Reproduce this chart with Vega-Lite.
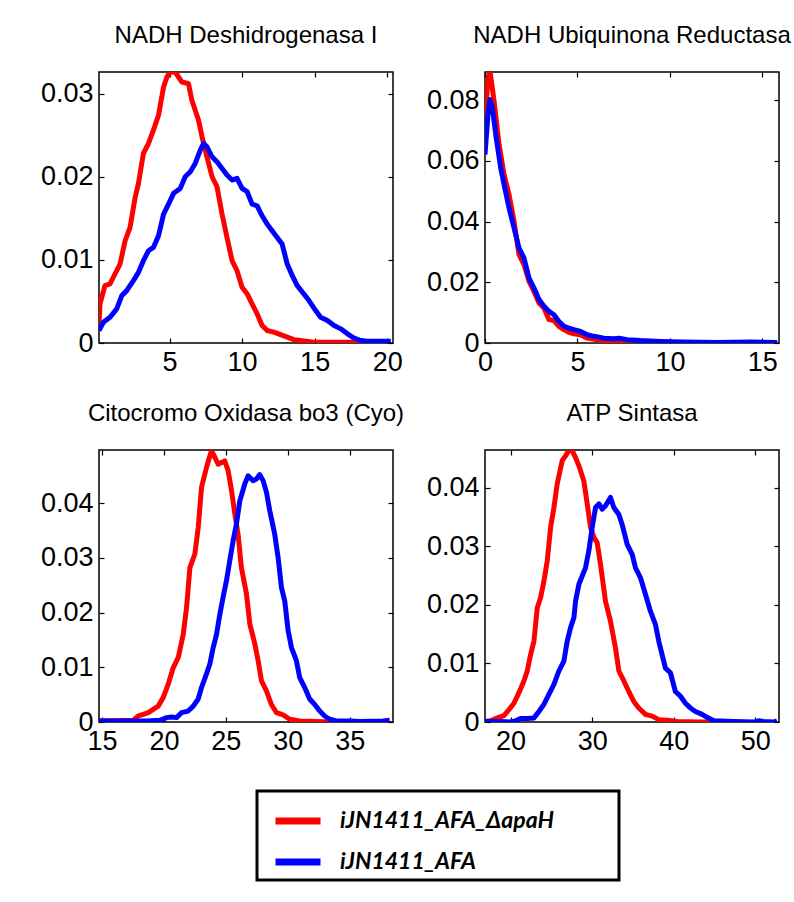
{
  "$schema": "https://vega.github.io/schema/vega-lite/v6.json",
  "background": "white",
  "padding": {"left": 39, "top": 23, "right": 5, "bottom": 5},
  "config": {
    "font": "Liberation Sans",
    "view": {"stroke": "black", "strokeWidth": 1.5},
    "axis": {"domain": false, "grid": false, "title": null, "labelFont": "Liberation Sans", "labelFontSize": 27, "labelColor": "black", "tickColor": "black", "tickSize": -5, "tickWidth": 1.2, "labelFlush": false, "labelPadding": 11, "labelOverlap": false},
    "title": {"font": "Liberation Sans", "fontSize": 24, "fontWeight": "normal", "color": "black", "anchor": "middle", "baseline": "alphabetic", "offset": 23},
    "legend": {
      "orient": "none", "legendX": 158, "legendY": 719, "title": null,
      "strokeColor": "black", "strokeWidth": 3, "padding": 4, "fillColor": "white",
      "symbolType": "stroke", "symbolSize": 2025, "symbolStrokeWidth": 7, "symbolOffset": 11,
      "labelFont": "Lato", "labelFontSize": 23, "labelFontWeight": "bold", "labelFontStyle": "italic", "labelColor": "black",
      "labelOffset": 16, "rowPadding": 1, "labelLimit": 0
    }
  },
  "datasets": {
    "p1": [
      {"x":0.14,"y":0.0023,"s":"iJN1411_AFA_ΔapaH"},{"x":0.21,"y":0.0047,"s":"iJN1411_AFA_ΔapaH"},{"x":0.55,"y":0.0069,"s":"iJN1411_AFA_ΔapaH"},{"x":0.90,"y":0.0071,"s":"iJN1411_AFA_ΔapaH"},{"x":1.24,"y":0.0083,"s":"iJN1411_AFA_ΔapaH"},{"x":1.59,"y":0.0095,"s":"iJN1411_AFA_ΔapaH"},{"x":1.94,"y":0.0123,"s":"iJN1411_AFA_ΔapaH"},{"x":2.28,"y":0.0139,"s":"iJN1411_AFA_ΔapaH"},{"x":2.63,"y":0.0175,"s":"iJN1411_AFA_ΔapaH"},{"x":2.86,"y":0.0192,"s":"iJN1411_AFA_ΔapaH"},{"x":3.20,"y":0.0228,"s":"iJN1411_AFA_ΔapaH"},{"x":3.55,"y":0.0240,"s":"iJN1411_AFA_ΔapaH"},{"x":3.89,"y":0.0256,"s":"iJN1411_AFA_ΔapaH"},{"x":4.24,"y":0.0274,"s":"iJN1411_AFA_ΔapaH"},{"x":4.59,"y":0.0308,"s":"iJN1411_AFA_ΔapaH"},{"x":4.82,"y":0.0320,"s":"iJN1411_AFA_ΔapaH"},{"x":5.05,"y":0.0326,"s":"iJN1411_AFA_ΔapaH"},{"x":5.39,"y":0.0326,"s":"iJN1411_AFA_ΔapaH"},{"x":5.62,"y":0.0320,"s":"iJN1411_AFA_ΔapaH"},{"x":5.85,"y":0.0314,"s":"iJN1411_AFA_ΔapaH"},{"x":6.31,"y":0.0312,"s":"iJN1411_AFA_ΔapaH"},{"x":6.54,"y":0.0292,"s":"iJN1411_AFA_ΔapaH"},{"x":7.00,"y":0.0268,"s":"iJN1411_AFA_ΔapaH"},{"x":7.24,"y":0.0248,"s":"iJN1411_AFA_ΔapaH"},{"x":7.58,"y":0.0224,"s":"iJN1411_AFA_ΔapaH"},{"x":7.93,"y":0.0200,"s":"iJN1411_AFA_ΔapaH"},{"x":8.27,"y":0.0188,"s":"iJN1411_AFA_ΔapaH"},{"x":8.62,"y":0.0155,"s":"iJN1411_AFA_ΔapaH"},{"x":8.96,"y":0.0127,"s":"iJN1411_AFA_ΔapaH"},{"x":9.31,"y":0.0099,"s":"iJN1411_AFA_ΔapaH"},{"x":9.65,"y":0.0087,"s":"iJN1411_AFA_ΔapaH"},{"x":10.00,"y":0.0067,"s":"iJN1411_AFA_ΔapaH"},{"x":10.35,"y":0.0059,"s":"iJN1411_AFA_ΔapaH"},{"x":10.69,"y":0.0047,"s":"iJN1411_AFA_ΔapaH"},{"x":11.04,"y":0.0035,"s":"iJN1411_AFA_ΔapaH"},{"x":11.38,"y":0.0021,"s":"iJN1411_AFA_ΔapaH"},{"x":11.73,"y":0.0015,"s":"iJN1411_AFA_ΔapaH"},{"x":12.19,"y":0.0013,"s":"iJN1411_AFA_ΔapaH"},{"x":12.65,"y":0.0010,"s":"iJN1411_AFA_ΔapaH"},{"x":13.11,"y":0.0007,"s":"iJN1411_AFA_ΔapaH"},{"x":13.57,"y":0.0004,"s":"iJN1411_AFA_ΔapaH"},{"x":14.03,"y":0.0003,"s":"iJN1411_AFA_ΔapaH"},{"x":14.95,"y":0.0001,"s":"iJN1411_AFA_ΔapaH"},{"x":16.34,"y":0.0001,"s":"iJN1411_AFA_ΔapaH"},{"x":18.18,"y":0.0001,"s":"iJN1411_AFA_ΔapaH"},{"x":18.64,"y":0.0,"s":"iJN1411_AFA_ΔapaH"},
      {"x":0.14,"y":0.0015,"s":"iJN1411_AFA"},{"x":0.44,"y":0.0025,"s":"iJN1411_AFA"},{"x":0.90,"y":0.0031,"s":"iJN1411_AFA"},{"x":1.36,"y":0.0041,"s":"iJN1411_AFA"},{"x":1.71,"y":0.0057,"s":"iJN1411_AFA"},{"x":2.05,"y":0.0063,"s":"iJN1411_AFA"},{"x":2.51,"y":0.0075,"s":"iJN1411_AFA"},{"x":2.86,"y":0.0085,"s":"iJN1411_AFA"},{"x":3.20,"y":0.0099,"s":"iJN1411_AFA"},{"x":3.55,"y":0.0111,"s":"iJN1411_AFA"},{"x":3.89,"y":0.0115,"s":"iJN1411_AFA"},{"x":4.24,"y":0.0129,"s":"iJN1411_AFA"},{"x":4.59,"y":0.0155,"s":"iJN1411_AFA"},{"x":4.93,"y":0.0167,"s":"iJN1411_AFA"},{"x":5.28,"y":0.0180,"s":"iJN1411_AFA"},{"x":5.74,"y":0.0186,"s":"iJN1411_AFA"},{"x":6.08,"y":0.0200,"s":"iJN1411_AFA"},{"x":6.43,"y":0.0206,"s":"iJN1411_AFA"},{"x":6.77,"y":0.0216,"s":"iJN1411_AFA"},{"x":7.12,"y":0.0232,"s":"iJN1411_AFA"},{"x":7.35,"y":0.0240,"s":"iJN1411_AFA"},{"x":7.58,"y":0.0236,"s":"iJN1411_AFA"},{"x":7.93,"y":0.0224,"s":"iJN1411_AFA"},{"x":8.27,"y":0.0218,"s":"iJN1411_AFA"},{"x":8.62,"y":0.0210,"s":"iJN1411_AFA"},{"x":8.96,"y":0.0202,"s":"iJN1411_AFA"},{"x":9.31,"y":0.0196,"s":"iJN1411_AFA"},{"x":9.65,"y":0.0198,"s":"iJN1411_AFA"},{"x":10.00,"y":0.0186,"s":"iJN1411_AFA"},{"x":10.35,"y":0.0182,"s":"iJN1411_AFA"},{"x":10.69,"y":0.0167,"s":"iJN1411_AFA"},{"x":11.04,"y":0.0165,"s":"iJN1411_AFA"},{"x":11.38,"y":0.0153,"s":"iJN1411_AFA"},{"x":11.73,"y":0.0143,"s":"iJN1411_AFA"},{"x":12.07,"y":0.0135,"s":"iJN1411_AFA"},{"x":12.42,"y":0.0127,"s":"iJN1411_AFA"},{"x":12.76,"y":0.0119,"s":"iJN1411_AFA"},{"x":13.11,"y":0.0095,"s":"iJN1411_AFA"},{"x":13.46,"y":0.0081,"s":"iJN1411_AFA"},{"x":13.80,"y":0.0069,"s":"iJN1411_AFA"},{"x":14.26,"y":0.0059,"s":"iJN1411_AFA"},{"x":14.61,"y":0.0051,"s":"iJN1411_AFA"},{"x":15.07,"y":0.0039,"s":"iJN1411_AFA"},{"x":15.41,"y":0.0031,"s":"iJN1411_AFA"},{"x":15.88,"y":0.0027,"s":"iJN1411_AFA"},{"x":16.34,"y":0.0021,"s":"iJN1411_AFA"},{"x":16.80,"y":0.0017,"s":"iJN1411_AFA"},{"x":17.26,"y":0.0011,"s":"iJN1411_AFA"},{"x":17.72,"y":0.0006,"s":"iJN1411_AFA"},{"x":18.18,"y":0.0003,"s":"iJN1411_AFA"},{"x":18.64,"y":0.0002,"s":"iJN1411_AFA"},{"x":20.25,"y":0.0002,"s":"iJN1411_AFA"}
    ],
    "p2": [
      {"x":0.0,"y":0.0720,"s":"iJN1411_AFA_ΔapaH"},{"x":0.16,"y":0.0874,"s":"iJN1411_AFA_ΔapaH"},{"x":0.27,"y":0.0896,"s":"iJN1411_AFA_ΔapaH"},{"x":0.49,"y":0.0797,"s":"iJN1411_AFA_ΔapaH"},{"x":0.76,"y":0.0654,"s":"iJN1411_AFA_ΔapaH"},{"x":1.03,"y":0.0555,"s":"iJN1411_AFA_ΔapaH"},{"x":1.30,"y":0.0489,"s":"iJN1411_AFA_ΔapaH"},{"x":1.57,"y":0.0401,"s":"iJN1411_AFA_ΔapaH"},{"x":1.84,"y":0.0291,"s":"iJN1411_AFA_ΔapaH"},{"x":2.11,"y":0.0258,"s":"iJN1411_AFA_ΔapaH"},{"x":2.38,"y":0.0203,"s":"iJN1411_AFA_ΔapaH"},{"x":2.65,"y":0.0170,"s":"iJN1411_AFA_ΔapaH"},{"x":2.92,"y":0.0132,"s":"iJN1411_AFA_ΔapaH"},{"x":3.19,"y":0.0115,"s":"iJN1411_AFA_ΔapaH"},{"x":3.46,"y":0.0077,"s":"iJN1411_AFA_ΔapaH"},{"x":3.73,"y":0.0074,"s":"iJN1411_AFA_ΔapaH"},{"x":4.00,"y":0.0055,"s":"iJN1411_AFA_ΔapaH"},{"x":4.27,"y":0.0044,"s":"iJN1411_AFA_ΔapaH"},{"x":4.54,"y":0.0035,"s":"iJN1411_AFA_ΔapaH"},{"x":4.81,"y":0.0030,"s":"iJN1411_AFA_ΔapaH"},{"x":5.17,"y":0.0027,"s":"iJN1411_AFA_ΔapaH"},{"x":5.53,"y":0.0016,"s":"iJN1411_AFA_ΔapaH"},{"x":6.07,"y":0.0011,"s":"iJN1411_AFA_ΔapaH"},{"x":6.61,"y":0.0005,"s":"iJN1411_AFA_ΔapaH"},{"x":7.15,"y":0.0003,"s":"iJN1411_AFA_ΔapaH"},{"x":8.05,"y":0.0001,"s":"iJN1411_AFA_ΔapaH"},{"x":9.86,"y":0.0,"s":"iJN1411_AFA_ΔapaH"},{"x":15.8,"y":0.0,"s":"iJN1411_AFA_ΔapaH"},
      {"x":0.0,"y":0.0621,"s":"iJN1411_AFA"},{"x":0.16,"y":0.0753,"s":"iJN1411_AFA"},{"x":0.27,"y":0.0802,"s":"iJN1411_AFA"},{"x":0.40,"y":0.0775,"s":"iJN1411_AFA"},{"x":0.58,"y":0.0687,"s":"iJN1411_AFA"},{"x":0.85,"y":0.0577,"s":"iJN1411_AFA"},{"x":1.03,"y":0.0522,"s":"iJN1411_AFA"},{"x":1.30,"y":0.0445,"s":"iJN1411_AFA"},{"x":1.57,"y":0.0379,"s":"iJN1411_AFA"},{"x":1.84,"y":0.0313,"s":"iJN1411_AFA"},{"x":2.11,"y":0.0280,"s":"iJN1411_AFA"},{"x":2.38,"y":0.0214,"s":"iJN1411_AFA"},{"x":2.65,"y":0.0181,"s":"iJN1411_AFA"},{"x":2.92,"y":0.0143,"s":"iJN1411_AFA"},{"x":3.19,"y":0.0121,"s":"iJN1411_AFA"},{"x":3.46,"y":0.0104,"s":"iJN1411_AFA"},{"x":3.73,"y":0.0093,"s":"iJN1411_AFA"},{"x":4.00,"y":0.0071,"s":"iJN1411_AFA"},{"x":4.27,"y":0.0055,"s":"iJN1411_AFA"},{"x":4.54,"y":0.0049,"s":"iJN1411_AFA"},{"x":4.81,"y":0.0044,"s":"iJN1411_AFA"},{"x":5.17,"y":0.0038,"s":"iJN1411_AFA"},{"x":5.53,"y":0.0027,"s":"iJN1411_AFA"},{"x":5.89,"y":0.0022,"s":"iJN1411_AFA"},{"x":6.43,"y":0.0016,"s":"iJN1411_AFA"},{"x":6.97,"y":0.0014,"s":"iJN1411_AFA"},{"x":7.24,"y":0.0016,"s":"iJN1411_AFA"},{"x":7.69,"y":0.0011,"s":"iJN1411_AFA"},{"x":8.41,"y":0.0008,"s":"iJN1411_AFA"},{"x":9.50,"y":0.0005,"s":"iJN1411_AFA"},{"x":10.76,"y":0.0003,"s":"iJN1411_AFA"},{"x":12.56,"y":0.0002,"s":"iJN1411_AFA"},{"x":14.36,"y":0.0003,"s":"iJN1411_AFA"},{"x":15.8,"y":0.0002,"s":"iJN1411_AFA"}
    ],
    "p3": [
      {"x":14.76,"y":0.0002,"s":"iJN1411_AFA_ΔapaH"},{"x":17.53,"y":0.0003,"s":"iJN1411_AFA_ΔapaH"},{"x":17.93,"y":0.0011,"s":"iJN1411_AFA_ΔapaH"},{"x":18.33,"y":0.0014,"s":"iJN1411_AFA_ΔapaH"},{"x":18.74,"y":0.0017,"s":"iJN1411_AFA_ΔapaH"},{"x":19.14,"y":0.0023,"s":"iJN1411_AFA_ΔapaH"},{"x":19.54,"y":0.0029,"s":"iJN1411_AFA_ΔapaH"},{"x":19.95,"y":0.0045,"s":"iJN1411_AFA_ΔapaH"},{"x":20.35,"y":0.0069,"s":"iJN1411_AFA_ΔapaH"},{"x":20.75,"y":0.0099,"s":"iJN1411_AFA_ΔapaH"},{"x":21.16,"y":0.0118,"s":"iJN1411_AFA_ΔapaH"},{"x":21.56,"y":0.0160,"s":"iJN1411_AFA_ΔapaH"},{"x":21.83,"y":0.0209,"s":"iJN1411_AFA_ΔapaH"},{"x":22.10,"y":0.0282,"s":"iJN1411_AFA_ΔapaH"},{"x":22.50,"y":0.0307,"s":"iJN1411_AFA_ΔapaH"},{"x":22.77,"y":0.0355,"s":"iJN1411_AFA_ΔapaH"},{"x":23.04,"y":0.0429,"s":"iJN1411_AFA_ΔapaH"},{"x":23.44,"y":0.0465,"s":"iJN1411_AFA_ΔapaH"},{"x":23.84,"y":0.0496,"s":"iJN1411_AFA_ΔapaH"},{"x":24.11,"y":0.0484,"s":"iJN1411_AFA_ΔapaH"},{"x":24.38,"y":0.0471,"s":"iJN1411_AFA_ΔapaH"},{"x":24.65,"y":0.0474,"s":"iJN1411_AFA_ΔapaH"},{"x":24.92,"y":0.0477,"s":"iJN1411_AFA_ΔapaH"},{"x":25.19,"y":0.0459,"s":"iJN1411_AFA_ΔapaH"},{"x":25.46,"y":0.0423,"s":"iJN1411_AFA_ΔapaH"},{"x":25.73,"y":0.0380,"s":"iJN1411_AFA_ΔapaH"},{"x":25.99,"y":0.0343,"s":"iJN1411_AFA_ΔapaH"},{"x":26.26,"y":0.0282,"s":"iJN1411_AFA_ΔapaH"},{"x":26.67,"y":0.0234,"s":"iJN1411_AFA_ΔapaH"},{"x":26.94,"y":0.0179,"s":"iJN1411_AFA_ΔapaH"},{"x":27.34,"y":0.0143,"s":"iJN1411_AFA_ΔapaH"},{"x":27.61,"y":0.0112,"s":"iJN1411_AFA_ΔapaH"},{"x":27.88,"y":0.0075,"s":"iJN1411_AFA_ΔapaH"},{"x":28.28,"y":0.0057,"s":"iJN1411_AFA_ΔapaH"},{"x":28.68,"y":0.0032,"s":"iJN1411_AFA_ΔapaH"},{"x":29.09,"y":0.0017,"s":"iJN1411_AFA_ΔapaH"},{"x":29.62,"y":0.0013,"s":"iJN1411_AFA_ΔapaH"},{"x":30.16,"y":0.0005,"s":"iJN1411_AFA_ΔapaH"},{"x":30.97,"y":0.0002,"s":"iJN1411_AFA_ΔapaH"},{"x":32.31,"y":0.0001,"s":"iJN1411_AFA_ΔapaH"},{"x":33.39,"y":0.0,"s":"iJN1411_AFA_ΔapaH"},
      {"x":14.76,"y":0.0002,"s":"iJN1411_AFA"},{"x":18.60,"y":0.0002,"s":"iJN1411_AFA"},{"x":19.68,"y":0.0003,"s":"iJN1411_AFA"},{"x":20.22,"y":0.0008,"s":"iJN1411_AFA"},{"x":20.62,"y":0.0009,"s":"iJN1411_AFA"},{"x":21.02,"y":0.0008,"s":"iJN1411_AFA"},{"x":21.42,"y":0.0017,"s":"iJN1411_AFA"},{"x":21.96,"y":0.0020,"s":"iJN1411_AFA"},{"x":22.37,"y":0.0029,"s":"iJN1411_AFA"},{"x":22.77,"y":0.0042,"s":"iJN1411_AFA"},{"x":23.04,"y":0.0063,"s":"iJN1411_AFA"},{"x":23.44,"y":0.0088,"s":"iJN1411_AFA"},{"x":23.71,"y":0.0106,"s":"iJN1411_AFA"},{"x":23.98,"y":0.0136,"s":"iJN1411_AFA"},{"x":24.25,"y":0.0160,"s":"iJN1411_AFA"},{"x":24.52,"y":0.0197,"s":"iJN1411_AFA"},{"x":24.78,"y":0.0228,"s":"iJN1411_AFA"},{"x":25.05,"y":0.0258,"s":"iJN1411_AFA"},{"x":25.32,"y":0.0295,"s":"iJN1411_AFA"},{"x":25.59,"y":0.0331,"s":"iJN1411_AFA"},{"x":25.86,"y":0.0362,"s":"iJN1411_AFA"},{"x":26.13,"y":0.0404,"s":"iJN1411_AFA"},{"x":26.53,"y":0.0435,"s":"iJN1411_AFA"},{"x":26.80,"y":0.0450,"s":"iJN1411_AFA"},{"x":27.20,"y":0.0441,"s":"iJN1411_AFA"},{"x":27.47,"y":0.0444,"s":"iJN1411_AFA"},{"x":27.74,"y":0.0452,"s":"iJN1411_AFA"},{"x":28.01,"y":0.0441,"s":"iJN1411_AFA"},{"x":28.28,"y":0.0420,"s":"iJN1411_AFA"},{"x":28.55,"y":0.0386,"s":"iJN1411_AFA"},{"x":28.95,"y":0.0343,"s":"iJN1411_AFA"},{"x":29.22,"y":0.0301,"s":"iJN1411_AFA"},{"x":29.49,"y":0.0246,"s":"iJN1411_AFA"},{"x":29.76,"y":0.0221,"s":"iJN1411_AFA"},{"x":30.03,"y":0.0167,"s":"iJN1411_AFA"},{"x":30.30,"y":0.0136,"s":"iJN1411_AFA"},{"x":30.70,"y":0.0112,"s":"iJN1411_AFA"},{"x":30.97,"y":0.0081,"s":"iJN1411_AFA"},{"x":31.37,"y":0.0063,"s":"iJN1411_AFA"},{"x":31.77,"y":0.0042,"s":"iJN1411_AFA"},{"x":32.18,"y":0.0032,"s":"iJN1411_AFA"},{"x":32.58,"y":0.0020,"s":"iJN1411_AFA"},{"x":32.98,"y":0.0011,"s":"iJN1411_AFA"},{"x":33.39,"y":0.0005,"s":"iJN1411_AFA"},{"x":33.92,"y":0.0002,"s":"iJN1411_AFA"},{"x":35.00,"y":0.0002,"s":"iJN1411_AFA"},{"x":35.81,"y":0.0001,"s":"iJN1411_AFA"},{"x":37.69,"y":0.0002,"s":"iJN1411_AFA"},{"x":38.23,"y":0.0003,"s":"iJN1411_AFA"}
    ],
    "p4": [
      {"x":16.86,"y":0.0001,"s":"iJN1411_AFA_ΔapaH"},{"x":17.55,"y":0.0002,"s":"iJN1411_AFA_ΔapaH"},{"x":18.37,"y":0.0007,"s":"iJN1411_AFA_ΔapaH"},{"x":19.18,"y":0.0011,"s":"iJN1411_AFA_ΔapaH"},{"x":19.80,"y":0.0021,"s":"iJN1411_AFA_ΔapaH"},{"x":20.41,"y":0.0032,"s":"iJN1411_AFA_ΔapaH"},{"x":21.02,"y":0.0050,"s":"iJN1411_AFA_ΔapaH"},{"x":21.63,"y":0.0070,"s":"iJN1411_AFA_ΔapaH"},{"x":22.04,"y":0.0087,"s":"iJN1411_AFA_ΔapaH"},{"x":22.45,"y":0.0115,"s":"iJN1411_AFA_ΔapaH"},{"x":22.86,"y":0.0138,"s":"iJN1411_AFA_ΔapaH"},{"x":23.27,"y":0.0195,"s":"iJN1411_AFA_ΔapaH"},{"x":23.67,"y":0.0212,"s":"iJN1411_AFA_ΔapaH"},{"x":24.08,"y":0.0240,"s":"iJN1411_AFA_ΔapaH"},{"x":24.49,"y":0.0275,"s":"iJN1411_AFA_ΔapaH"},{"x":24.90,"y":0.0332,"s":"iJN1411_AFA_ΔapaH"},{"x":25.31,"y":0.0366,"s":"iJN1411_AFA_ΔapaH"},{"x":25.71,"y":0.0406,"s":"iJN1411_AFA_ΔapaH"},{"x":26.33,"y":0.0446,"s":"iJN1411_AFA_ΔapaH"},{"x":26.73,"y":0.0454,"s":"iJN1411_AFA_ΔapaH"},{"x":27.14,"y":0.0463,"s":"iJN1411_AFA_ΔapaH"},{"x":27.55,"y":0.0463,"s":"iJN1411_AFA_ΔapaH"},{"x":27.96,"y":0.0451,"s":"iJN1411_AFA_ΔapaH"},{"x":28.37,"y":0.0437,"s":"iJN1411_AFA_ΔapaH"},{"x":28.98,"y":0.0411,"s":"iJN1411_AFA_ΔapaH"},{"x":29.39,"y":0.0372,"s":"iJN1411_AFA_ΔapaH"},{"x":29.80,"y":0.0332,"s":"iJN1411_AFA_ΔapaH"},{"x":30.20,"y":0.0315,"s":"iJN1411_AFA_ΔapaH"},{"x":30.61,"y":0.0306,"s":"iJN1411_AFA_ΔapaH"},{"x":31.02,"y":0.0269,"s":"iJN1411_AFA_ΔapaH"},{"x":31.63,"y":0.0206,"s":"iJN1411_AFA_ΔapaH"},{"x":32.24,"y":0.0172,"s":"iJN1411_AFA_ΔapaH"},{"x":32.86,"y":0.0126,"s":"iJN1411_AFA_ΔapaH"},{"x":33.27,"y":0.0087,"s":"iJN1411_AFA_ΔapaH"},{"x":33.88,"y":0.0070,"s":"iJN1411_AFA_ΔapaH"},{"x":34.49,"y":0.0052,"s":"iJN1411_AFA_ΔapaH"},{"x":35.10,"y":0.0035,"s":"iJN1411_AFA_ΔapaH"},{"x":35.71,"y":0.0024,"s":"iJN1411_AFA_ΔapaH"},{"x":36.53,"y":0.0013,"s":"iJN1411_AFA_ΔapaH"},{"x":37.35,"y":0.0010,"s":"iJN1411_AFA_ΔapaH"},{"x":38.16,"y":0.0004,"s":"iJN1411_AFA_ΔapaH"},{"x":39.18,"y":0.0003,"s":"iJN1411_AFA_ΔapaH"},{"x":40.41,"y":0.0001,"s":"iJN1411_AFA_ΔapaH"},{"x":43.27,"y":0.0,"s":"iJN1411_AFA_ΔapaH"},{"x":44.49,"y":0.0,"s":"iJN1411_AFA_ΔapaH"},
      {"x":16.86,"y":0.0001,"s":"iJN1411_AFA"},{"x":18.78,"y":0.0001,"s":"iJN1411_AFA"},{"x":20.00,"y":0.0,"s":"iJN1411_AFA"},{"x":20.61,"y":0.0002,"s":"iJN1411_AFA"},{"x":21.22,"y":0.0006,"s":"iJN1411_AFA"},{"x":22.04,"y":0.0006,"s":"iJN1411_AFA"},{"x":22.86,"y":0.0007,"s":"iJN1411_AFA"},{"x":23.47,"y":0.0018,"s":"iJN1411_AFA"},{"x":24.08,"y":0.0030,"s":"iJN1411_AFA"},{"x":24.69,"y":0.0047,"s":"iJN1411_AFA"},{"x":25.31,"y":0.0064,"s":"iJN1411_AFA"},{"x":25.92,"y":0.0087,"s":"iJN1411_AFA"},{"x":26.53,"y":0.0104,"s":"iJN1411_AFA"},{"x":26.94,"y":0.0138,"s":"iJN1411_AFA"},{"x":27.35,"y":0.0161,"s":"iJN1411_AFA"},{"x":27.76,"y":0.0178,"s":"iJN1411_AFA"},{"x":27.96,"y":0.0206,"s":"iJN1411_AFA"},{"x":28.37,"y":0.0235,"s":"iJN1411_AFA"},{"x":28.78,"y":0.0249,"s":"iJN1411_AFA"},{"x":29.18,"y":0.0263,"s":"iJN1411_AFA"},{"x":29.59,"y":0.0292,"s":"iJN1411_AFA"},{"x":30.00,"y":0.0332,"s":"iJN1411_AFA"},{"x":30.41,"y":0.0366,"s":"iJN1411_AFA"},{"x":30.82,"y":0.0372,"s":"iJN1411_AFA"},{"x":31.22,"y":0.0363,"s":"iJN1411_AFA"},{"x":31.63,"y":0.0369,"s":"iJN1411_AFA"},{"x":32.24,"y":0.0383,"s":"iJN1411_AFA"},{"x":32.65,"y":0.0366,"s":"iJN1411_AFA"},{"x":33.27,"y":0.0354,"s":"iJN1411_AFA"},{"x":33.67,"y":0.0337,"s":"iJN1411_AFA"},{"x":34.29,"y":0.0303,"s":"iJN1411_AFA"},{"x":34.90,"y":0.0286,"s":"iJN1411_AFA"},{"x":35.31,"y":0.0263,"s":"iJN1411_AFA"},{"x":35.92,"y":0.0246,"s":"iJN1411_AFA"},{"x":36.53,"y":0.0218,"s":"iJN1411_AFA"},{"x":37.14,"y":0.0189,"s":"iJN1411_AFA"},{"x":37.76,"y":0.0166,"s":"iJN1411_AFA"},{"x":38.16,"y":0.0138,"s":"iJN1411_AFA"},{"x":38.57,"y":0.0115,"s":"iJN1411_AFA"},{"x":38.98,"y":0.0092,"s":"iJN1411_AFA"},{"x":39.59,"y":0.0084,"s":"iJN1411_AFA"},{"x":40.20,"y":0.0052,"s":"iJN1411_AFA"},{"x":40.82,"y":0.0044,"s":"iJN1411_AFA"},{"x":41.43,"y":0.0032,"s":"iJN1411_AFA"},{"x":42.04,"y":0.0024,"s":"iJN1411_AFA"},{"x":42.65,"y":0.0018,"s":"iJN1411_AFA"},{"x":43.47,"y":0.0013,"s":"iJN1411_AFA"},{"x":44.08,"y":0.0008,"s":"iJN1411_AFA"},{"x":44.90,"y":0.0002,"s":"iJN1411_AFA"},{"x":47.35,"y":0.0001,"s":"iJN1411_AFA"},{"x":49.80,"y":0.0,"s":"iJN1411_AFA"},{"x":50.41,"y":0.0002,"s":"iJN1411_AFA"},{"x":51.02,"y":0.0001,"s":"iJN1411_AFA"},{"x":52.24,"y":0.0,"s":"iJN1411_AFA"},{"x":52.65,"y":0.0002,"s":"iJN1411_AFA"}
    ]
  },
  "columns": 2,
  "spacing": {"row": 107, "column": 92},
  "bounds": "flush",
  "concat": [
    {
      "data": {"name": "p1"}, "title": "NADH Deshidrogenasa I", "width": 294, "height": 271,
      "layer": [
        {"mark": {"type": "line", "strokeWidth": 5, "clip": true, "strokeJoin": "round"},
         "encoding": {
           "x": {"field": "x", "type": "quantitative", "scale": {"domain": [0.14, 20.4], "nice": false, "zero": false}, "axis": {"values": [5, 10, 15, 20], "format": "d"}},
           "y": {"field": "y", "type": "quantitative", "scale": {"domain": [0, 0.0326], "nice": false}, "axis": {"values": [0, 0.01, 0.02, 0.03], "format": ".2~f"}},
           "color": {"field": "s", "type": "nominal", "scale": {"domain": ["iJN1411_AFA_ΔapaH", "iJN1411_AFA"], "range": ["#ff0000", "#0000ff"]},
             "legend": {"labelExpr": "datum.label + '\u00a0\u00a0\u00a0\u00a0\u00a0\u00a0\u00a0\u00a0\u00a0\u00a0\u00a0\u00a0\u200b'"}}}},
        {"mark": {"type": "line", "opacity": 0},
         "encoding": {
           "x": {"field": "x", "type": "quantitative", "axis": {"orient": "top", "labels": false, "values": [5, 10, 15, 20]}},
           "y": {"field": "y", "type": "quantitative", "axis": {"orient": "right", "labels": false, "values": [0, 0.01, 0.02, 0.03]}},
           "detail": {"field": "s"}}}
      ],
      "resolve": {"axis": {"x": "independent", "y": "independent"}}
    },
    {
      "data": {"name": "p2"}, "title": "NADH Ubiquinona Reductasa", "width": 294, "height": 271,
      "layer": [
        {"mark": {"type": "line", "strokeWidth": 5, "clip": true, "strokeJoin": "round"},
         "encoding": {
           "x": {"field": "x", "type": "quantitative", "scale": {"domain": [0, 15.9], "nice": false, "zero": false}, "axis": {"values": [0, 5, 10, 15], "format": "d"}},
           "y": {"field": "y", "type": "quantitative", "scale": {"domain": [0, 0.0893], "nice": false}, "axis": {"values": [0, 0.02, 0.04, 0.06, 0.08], "format": ".2~f"}},
           "color": {"field": "s", "type": "nominal", "scale": {"domain": ["iJN1411_AFA_ΔapaH", "iJN1411_AFA"], "range": ["#ff0000", "#0000ff"]}}}},
        {"mark": {"type": "line", "opacity": 0},
         "encoding": {
           "x": {"field": "x", "type": "quantitative", "axis": {"orient": "top", "labels": false, "values": [0, 5, 10, 15]}},
           "y": {"field": "y", "type": "quantitative", "axis": {"orient": "right", "labels": false, "values": [0, 0.02, 0.04, 0.06, 0.08]}},
           "detail": {"field": "s"}}}
      ],
      "resolve": {"axis": {"x": "independent", "y": "independent"}}
    },
    {
      "data": {"name": "p3"}, "title": "Citocromo Oxidasa bo3 (Cyo)", "width": 294, "height": 272,
      "layer": [
        {"mark": {"type": "line", "strokeWidth": 5, "clip": true, "strokeJoin": "round"},
         "encoding": {
           "x": {"field": "x", "type": "quantitative", "scale": {"domain": [14.76, 38.5], "nice": false, "zero": false}, "axis": {"values": [15, 20, 25, 30, 35], "format": "d"}},
           "y": {"field": "y", "type": "quantitative", "scale": {"domain": [0, 0.0497], "nice": false}, "axis": {"values": [0, 0.01, 0.02, 0.03, 0.04], "format": ".2~f"}},
           "color": {"field": "s", "type": "nominal", "scale": {"domain": ["iJN1411_AFA_ΔapaH", "iJN1411_AFA"], "range": ["#ff0000", "#0000ff"]}}}},
        {"mark": {"type": "line", "opacity": 0},
         "encoding": {
           "x": {"field": "x", "type": "quantitative", "axis": {"orient": "top", "labels": false, "values": [15, 20, 25, 30, 35]}},
           "y": {"field": "y", "type": "quantitative", "axis": {"orient": "right", "labels": false, "values": [0, 0.01, 0.02, 0.03, 0.04]}},
           "detail": {"field": "s"}}}
      ],
      "resolve": {"axis": {"x": "independent", "y": "independent"}}
    },
    {
      "data": {"name": "p4"}, "title": "ATP Sintasa", "width": 294, "height": 272,
      "layer": [
        {"mark": {"type": "line", "strokeWidth": 5, "clip": true, "strokeJoin": "round"},
         "encoding": {
           "x": {"field": "x", "type": "quantitative", "scale": {"domain": [16.86, 52.9], "nice": false, "zero": false}, "axis": {"values": [20, 30, 40, 50], "format": "d"}},
           "y": {"field": "y", "type": "quantitative", "scale": {"domain": [0, 0.0464], "nice": false}, "axis": {"values": [0, 0.01, 0.02, 0.03, 0.04], "format": ".2~f"}},
           "color": {"field": "s", "type": "nominal", "scale": {"domain": ["iJN1411_AFA_ΔapaH", "iJN1411_AFA"], "range": ["#ff0000", "#0000ff"]}}}},
        {"mark": {"type": "line", "opacity": 0},
         "encoding": {
           "x": {"field": "x", "type": "quantitative", "axis": {"orient": "top", "labels": false, "values": [20, 30, 40, 50]}},
           "y": {"field": "y", "type": "quantitative", "axis": {"orient": "right", "labels": false, "values": [0, 0.01, 0.02, 0.03, 0.04]}},
           "detail": {"field": "s"}}}
      ],
      "resolve": {"axis": {"x": "independent", "y": "independent"}}
    }
  ]
}
